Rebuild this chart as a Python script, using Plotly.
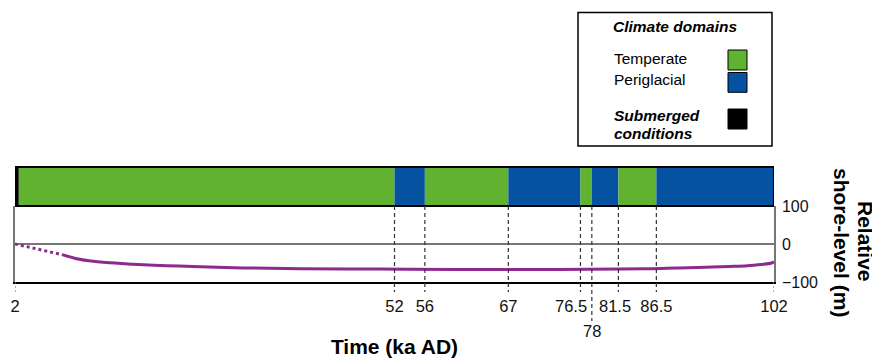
import plotly.graph_objects as go

# ---- data ----
domain_starts = [2, 2.5, 52, 56, 67, 76.5, 78, 81.5, 86.5]
domain_ends = [2.5, 52, 56, 67, 76.5, 78, 81.5, 86.5, 102]
domain_types = ["Submerged", "Temperate", "Periglacial", "Temperate", "Periglacial",
                "Temperate", "Periglacial", "Temperate", "Periglacial"]
boundaries = [52, 56, 67, 76.5, 78, 81.5, 86.5]
tick_vals = [2, 52, 56, 67, 86.5, 102]
tick_text = ["2", "52", "56", "67", "86.5", "102"]
crowded_tick_vals = [76.5, 78, 81.5]
crowded_tick_text = ["76.5", "78", "81.5"]

dotted_time = [2, 4, 6, 8.2]
dotted_level = [0, -9, -18, -28]
solid_time = [8.2, 10, 12, 14, 17.5, 22, 26.4, 32, 39.5, 50, 60, 72.5, 81.7, 86,
              89.6, 93, 96.2, 98.5, 100.2, 101.7, 102]
solid_level = [-28, -38, -45, -49, -53, -57, -60, -63, -65, -66, -67, -67, -66, -65,
               -63, -61, -59, -57, -54, -50, -46]

y_ticks = [-100, 0, 100]

colors = {"Temperate": "#62B232", "Periglacial": "#0452A0", "Submerged": "#000000"}
purple = "#8C2A8E"
FONT = "Liberation Sans, Arial, sans-serif"

# label placement for the crowded ticks: (x shift px, row centre y px)
crowded_style = {76.5: (-9, 305.5), 78: (0, 331), 81.5: (-3, 305.5)}

W, H = 880, 358
OFF = 8  # page body margin
# plot area in screen pixels
L, R, T, B = 15, 774, 167, 282


def px(x):
    return (x - L) / (R - L)


def py(y):
    return (B - y) / (B - T)


fig = go.Figure()

# climate domain bar
fig.add_trace(go.Bar(
    y=[0] * len(domain_starts),
    x=[e - s for s, e in zip(domain_starts, domain_ends)],
    base=domain_starts,
    orientation="h",
    width=1,
    marker=dict(color=[colors[t] for t in domain_types], line=dict(width=0)),
    yaxis="y2", xaxis="x", showlegend=False, hoverinfo="skip",
))

# shore-level curve
fig.add_trace(go.Scatter(x=dotted_time, y=dotted_level, mode="lines",
                         line=dict(color=purple, width=3, dash="dot"),
                         showlegend=False))
fig.add_trace(go.Scatter(x=solid_time, y=solid_level, mode="lines",
                         line=dict(color=purple, width=3, shape="spline"),
                         showlegend=False))

shapes = []
# bar border
shapes.append(dict(type="rect", xref="x", yref="y2 domain",
                   x0=domain_starts[0], x1=domain_ends[-1], y0=0, y1=1,
                   line=dict(color="black", width=2)))
# boundary dashed lines
for b in boundaries:
    bottom = 321 if b == 78 else 292
    shapes.append(dict(type="line", xref="x", yref="paper", x0=b, x1=b,
                       y0=py(206), y1=py(bottom),
                       line=dict(color="#333333", width=1.2, dash="4px,3px")))
for b in [tick_vals[0], tick_vals[-1]]:
    shapes.append(dict(type="line", xref="x", yref="paper", x0=b, x1=b,
                       y0=py(282), y1=py(292),
                       line=dict(color="#777777", width=1.2, dash="2px,2px")))

# legend box
shapes.append(dict(type="rect", xref="paper", yref="paper",
                   x0=px(578), x1=px(772), y0=py(146), y1=py(12.5),
                   line=dict(color="black", width=1.5), fillcolor="white"))
for (y0, y1, c) in [(50, 70, colors["Temperate"]), (72.5, 92.3, colors["Periglacial"]),
                    (109, 129, colors["Submerged"])]:
    shapes.append(dict(type="rect", xref="paper", yref="paper",
                       x0=px(728), x1=px(747), y0=py(y1), y1=py(y0),
                       line=dict(color="black", width=1), fillcolor=c))

LF = 15.5
annotations = []
annotations.append(dict(text="<b><i>Climate domains</i></b>", xref="paper", yref="paper",
                        x=px(674.5), y=py(26.5), xanchor="center", yanchor="middle",
                        showarrow=False, font=dict(size=LF, color="black", family=FONT)))
annotations.append(dict(text="Temperate", xref="paper", yref="paper",
                        x=px(612), y=py(58.5), xanchor="left", yanchor="middle",
                        showarrow=False, font=dict(size=LF, color="black", family=FONT)))
annotations.append(dict(text="Periglacial", xref="paper", yref="paper",
                        x=px(612), y=py(79.5), xanchor="left", yanchor="middle",
                        showarrow=False, font=dict(size=LF, color="black", family=FONT)))
annotations.append(dict(text="<b><i>Submerged</i></b>", xref="paper", yref="paper",
                        x=px(612), y=py(116), xanchor="left", yanchor="middle",
                        showarrow=False, font=dict(size=LF, color="black", family=FONT)))
annotations.append(dict(text="<b><i>conditions</i></b>", xref="paper", yref="paper",
                        x=px(612), y=py(133.5), xanchor="left", yanchor="middle",
                        showarrow=False, font=dict(size=LF, color="black", family=FONT)))
annotations.append(dict(text="<b>Relative</b>", xref="paper", yref="paper",
                        x=px(866), y=py(242), xanchor="center", yanchor="middle",
                        textangle=90, showarrow=False,
                        font=dict(size=21, color="black", family=FONT)))
annotations.append(dict(text="<b>shore-level (m)</b>", xref="paper", yref="paper",
                        x=px(841.5), y=py(242.5), xanchor="center", yanchor="middle",
                        textangle=90, showarrow=False,
                        font=dict(size=21, color="black", family=FONT)))
# crowded tick labels
for v, t in zip(crowded_tick_vals, crowded_tick_text):
    dx, yc = crowded_style[v]
    annotations.append(dict(text=t, xref="x", yref="paper", x=v, xshift=dx,
                            y=py(yc), xanchor="center", yanchor="middle",
                            showarrow=False,
                            font=dict(size=16.5, color="#111111", family=FONT)))

fig.update_layout(
    width=W, height=H,
    margin=dict(l=L - OFF, r=W - (R - OFF), t=T - OFF, b=H - (B - OFF), pad=0,
                autoexpand=False),
    paper_bgcolor="white", plot_bgcolor="white",
    barmode="overlay",
    font=dict(family=FONT, color="black"),
    shapes=shapes, annotations=annotations,
    xaxis=dict(range=[tick_vals[0], tick_vals[-1]], tickvals=tick_vals, ticktext=tick_text,
               showline=True, linecolor="black", linewidth=1.5, showgrid=False,
               zeroline=False, ticks="", anchor="y", ticklabelstandoff=8,
               tickangle=0, automargin=False,
               tickfont=dict(size=16.5, family=FONT, color="#111111"),
               title=dict(text="<b>Time (ka AD)</b>", font=dict(size=21, family=FONT),
                          standoff=26)),
    yaxis=dict(domain=[0, py(206)], range=[-100, 100], side="right", tickvals=y_ticks,
               showline=True, mirror=True, linecolor="#777777", linewidth=1.5,
               showgrid=False, zeroline=True, zerolinecolor="#777777", zerolinewidth=1.5,
               ticks="", ticklabelstandoff=3, automargin=False,
               tickfont=dict(size=16, family=FONT, color="#111111")),
    yaxis2=dict(domain=[py(206), 1], range=[-0.5, 0.5], showticklabels=False,
                showgrid=False, zeroline=False, showline=False, anchor="x",
                automargin=False),
)

fig.write_html("out.html")
